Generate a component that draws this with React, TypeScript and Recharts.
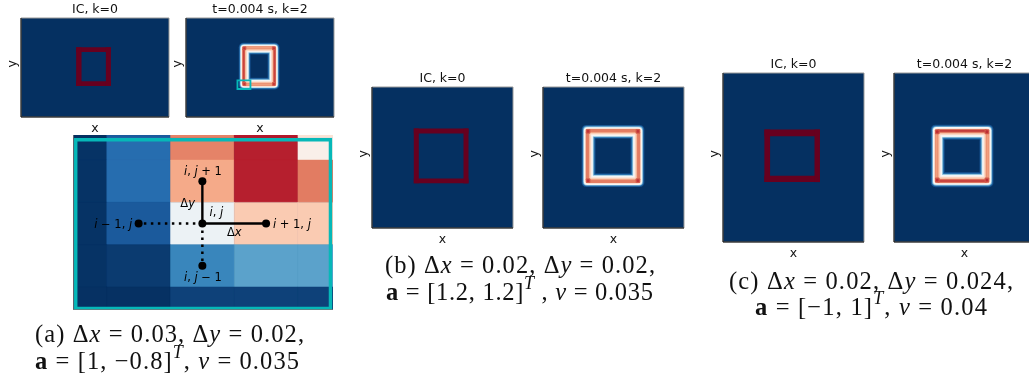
import React from "react";
import {
  ComposedChart,
  Scatter,
  XAxis,
  YAxis,
  ReferenceArea,
  ReferenceLine,
} from "recharts";

// RdBu_r colormap stops
const colormap = [
  "#053061", "#2166ac", "#4393c3", "#92c5de", "#d1e5f0", "#f7f7f7",
  "#fddbc7", "#f4a582", "#d6604d", "#b2182b", "#67001f",
];

// initial condition rings: outer [x1, x2, y1, y2], inner [x1, x2, y1, y2]
const icRingA = [[0.745, 1.215, 0.626, 1.408], [0.818, 1.147, 0.721, 1.313]];
const icRingB = [[0.593, 1.369, 0.633, 1.411], [0.664, 1.298, 0.703, 1.34]];
const icRingC = [[0.587, 1.375, 0.709, 1.331], [0.668, 1.298, 0.783, 1.252]];

// diffused rings: centre line [x1, x2, y1, y2], half width [hx, hy]
const diffusedLineA = [0.788, 1.188, 0.667, 1.388];
const diffusedHalfA = [0.075, 0.11];
const diffusedLineB = [0.64, 1.346, 0.672, 1.37];
const diffusedHalfB = [0.092, 0.092];
const diffusedLineC = [0.614, 1.318, 0.732, 1.305];
const diffusedHalfC = [0.092, 0.083];

// field value across the ring, outside (1) to inside (-1)
const bandLevels = [1, 0.86, 0.76, 0.66, 0.54, 0.44, 0.32, 0.18, 0.04, -0.1, -0.25, -0.4, -0.52, -0.64, -0.74, -0.86, -1, -1.15];
const bandValues = [0.06, 0.15, 0.3, 0.5, 0.52, 0.62, 0.7, 0.76, 0.74, 0.68, 0.62, 0.57, 0.5, 0.48, 0.3, 0.15, 0.05, 0];

// peak value on [vertical sides, horizontal sides, corners]
const peaksA = [0.84, 0.71, 0.86];
const peaksB = [0.76, 0.76, 0.86];
const peaksC = [0.71, 0.85, 0.87];

// highlighted window on the panel (a) snapshot
const windowA = [0.695, 0.871, 0.566, 0.741];

// zoomed grid
const gridXEdges = [-0.53, 0, 1, 2, 3, 3.558];
const gridYEdges = [3.593, 3.53, 3, 2, 1, 0, -0.544];
const gridValues = [
  [0.0, 0.08, 0.75, 0.9, 0.57],
  [0.005, 0.115, 0.75, 0.89, 0.53],
  [0.005, 0.115, 0.69, 0.89, 0.76],
  [0.005, 0.078, 0.47, 0.63, 0.63],
  [0.005, 0.02, 0.17, 0.23, 0.23],
  [0.002, 0.002, 0.032, 0.032, 0.032],
];
const gridWindow = [-0.487, 3.51, -0.506, 3.48];

const stencilPoints = [
  { x: 1.5, y: 1.5 },
  { x: 2.5, y: 1.5 },
  { x: 0.5, y: 1.5 },
  { x: 1.5, y: 2.5 },
  { x: 1.5, y: 0.5 },
];
const stencilLabels = [
  { x: 1.509, y: 2.75, text: "i, j + 1" },
  { x: 1.27, y: 1.996, text: "Δy" },
  { x: 1.72, y: 1.77, text: "i, j" },
  { x: 2.905, y: 1.5, text: "i + 1, j" },
  { x: 0.1, y: 1.5, text: "i − 1, j" },
  { x: 2.0, y: 1.3, text: "Δx" },
  { x: 1.509, y: 0.24, text: "i, j − 1" },
];

const titleIC = "IC, k=0";
const titleSnap = "t=0.004 s, k=2";

type Seg = { t: string; s?: "i" | "b" | "sup" };
type CapLine = { x: number; y: number; w: number; segs: Seg[] };

const captions: CapLine[] = [
  { x: 35, y: 342, w: 269, segs: [{ t: "(a) Δ" }, { t: "x", s: "i" }, { t: " = 0.03, Δ" }, { t: "y", s: "i" }, { t: " = 0.02," }] },
  { x: 35, y: 368.5, w: 264, segs: [{ t: "a", s: "b" }, { t: " = [1, −0.8]" }, { t: "T", s: "sup" }, { t: ", " }, { t: "ν", s: "i" }, { t: " = 0.035" }] },
  { x: 385, y: 273, w: 270, segs: [{ t: "(b) Δ" }, { t: "x", s: "i" }, { t: " = 0.02, Δ" }, { t: "y", s: "i" }, { t: " = 0.02," }] },
  { x: 386, y: 300, w: 267, segs: [{ t: "a", s: "b" }, { t: " = [1.2, 1.2]" }, { t: "T", s: "sup" }, { t: " , " }, { t: "ν", s: "i" }, { t: " = 0.035" }] },
  { x: 729, y: 288.5, w: 284, segs: [{ t: "(c) Δ" }, { t: "x", s: "i" }, { t: " = 0.02, Δ" }, { t: "y", s: "i" }, { t: " = 0.024," }] },
  { x: 755, y: 315, w: 232, segs: [{ t: "a", s: "b" }, { t: " = [−1, 1]" }, { t: "T", s: "sup" }, { t: ", " }, { t: "ν", s: "i" }, { t: " = 0.04" }] },
];

const TEAL = "#06b8b8";
const FONT = "DejaVu Sans";

const rdbu = (v: number) => {
  const p = Math.min(Math.max(v, 0), 1) * 10;
  const i = Math.min(Math.floor(p), 9);
  const f = p - i;
  const hex = (c: string, k: number) => parseInt(c.slice(1 + k * 2, 3 + k * 2), 16);
  const ch = [0, 1, 2].map((k) =>
    Math.round(hex(colormap[i], k) * (1 - f) + hex(colormap[i + 1], k) * f)
  );
  return `rgb(${ch[0]},${ch[1]},${ch[2]})`;
};

const mathSpans = (text: string) =>
  text.split("").map((c, k) =>
    /[ijxy]/.test(c) ? (
      <tspan key={k} fontStyle="italic">{c}</tspan>
    ) : (
      <tspan key={k}>{c}</tspan>
    )
  );

const MathLabel = (props: any) => (
  <text
    x={props.cx}
    y={props.cy}
    textAnchor="middle"
    dominantBaseline="central"
    fontFamily={FONT}
    fontSize={11.5}
    fill="#000"
  >
    {mathSpans(props.payload.text)}
  </text>
);

const ring = (r: number[][]) => {
  const [o, n] = r;
  const fill = rdbu(1);
  return [
    <ReferenceArea key="ic1" x1={o[0]} x2={o[1]} y1={o[2]} y2={n[2]} fill={fill} fillOpacity={1} />,
    <ReferenceArea key="ic2" x1={o[0]} x2={o[1]} y1={n[3]} y2={o[3]} fill={fill} fillOpacity={1} />,
    <ReferenceArea key="ic3" x1={o[0]} x2={n[0]} y1={o[2]} y2={o[3]} fill={fill} fillOpacity={1} />,
    <ReferenceArea key="ic4" x1={n[1]} x2={o[1]} y1={o[2]} y2={o[3]} fill={fill} fillOpacity={1} />,
  ];
};

const diffused = (line: number[], half: number[], peaks: number[]) => {
  const [x1, x2, y1, y2] = line;
  const [hx, hy] = half;
  const bands = bandLevels.map((l, k) => (
    <ReferenceArea
      key={`b${k}`}
      x1={x1 - l * hx}
      x2={x2 + l * hx}
      y1={y1 - l * hy}
      y2={y2 + l * hy}
      fill={rdbu(bandValues[k])}
      fillOpacity={1}
      radius={Math.max(4.5 * (0.35 + l * 0.65), 0.5)}
    />
  ));
  // side ridges, offset a little outwards from the centre line, soft then sharp
  const base = 0.75;
  const ridge = (w: number, mix: number) => {
    const vs = base + (peaks[0] - base) * mix;
    const hs = base + (peaks[1] - base) * mix;
    const o = 0.12;
    return [
      [x1 - o * hx - w * hx, x1 - o * hx + w * hx, y1, y2, vs],
      [x2 + o * hx - w * hx, x2 + o * hx + w * hx, y1, y2, vs],
      [x1, x2, y1 - o * hy - w * hy, y1 - o * hy + w * hy, hs],
      [x1, x2, y2 + o * hy - w * hy, y2 + o * hy + w * hy, hs],
    ];
  };
  const cornerAt = (c: number, v: number) =>
    [[x1, y1], [x2, y1], [x1, y2], [x2, y2]].map(([cx, cy]) => [
      cx - c * hx, cx + c * hx, cy - c * hy, cy + c * hy, v,
    ]);
  const extra = [
    ...ridge(0.24, 0.5),
    ...ridge(0.12, 1),
    ...cornerAt(0.36, (base + peaks[2]) / 2),
    ...cornerAt(0.2, peaks[2]),
  ].map((r, k) => (
    <ReferenceArea
      key={`s${k}`}
      x1={r[0]}
      x2={r[1]}
      y1={r[2]}
      y2={r[3]}
      fill={rdbu(r[4])}
      fillOpacity={1}
      radius={1}
    />
  ));
  return [...bands, ...extra];
};

const TOP = 18;
const BOTTOM = 17;
const LEFT = 20;

interface PanelProps {
  left: number;
  top: number;
  width: number;
  height: number;
  title: string;
  titleGap: number;
  children: React.ReactNode;
}

// one image panel, positioned by its plot box
const Panel = ({ left, top, width, height, title, titleGap, children }: PanelProps) => (
  <div style={{ position: "absolute", left: left - LEFT, top: top - TOP }}>
    <ComposedChart
      width={width + LEFT + 2}
      height={height + TOP + BOTTOM}
      margin={{ top: TOP, right: 2, bottom: 0, left: 0 }}
    >
      <XAxis
        type="number"
        dataKey="x"
        domain={[0, 2]}
        allowDataOverflow
        height={BOTTOM}
        tick={false}
        tickLine={false}
        axisLine={false}
        label={{ value: "x", position: "insideBottom", offset: 2, fontFamily: FONT, fontSize: 12.5, fill: "#111" }}
      />
      <YAxis
        type="number"
        dataKey="y"
        domain={[0, 2]}
        allowDataOverflow
        width={LEFT}
        tick={false}
        tickLine={false}
        axisLine={false}
        label={{ value: "y", angle: -90, position: "insideLeft", offset: 10.5, fontFamily: FONT, fontSize: 12.5, fill: "#111" }}
      />
      <ReferenceArea x1={0} x2={2} y1={0} y2={2} fill={rdbu(0)} fillOpacity={1} stroke="#999" strokeWidth={1} />
      {children}
      <ReferenceLine segment={[{ x: 0, y: 0 }, { x: 0, y: 2 }]} stroke="#111" strokeWidth={1} />
      <ReferenceLine segment={[{ x: 0, y: 0 }, { x: 2, y: 0 }]} stroke="#111" strokeWidth={1} />
      <text
        x={LEFT + width / 2}
        y={TOP - titleGap}
        textAnchor="middle"
        dominantBaseline="central"
        fontFamily={FONT}
        fontSize={12.5}
        fill="#111"
      >
        {title}
      </text>
    </ComposedChart>
  </div>
);

const GridInset = () => (
  <div style={{ position: "absolute", left: 72.7, top: 135 }}>
    <ComposedChart width={260.5} height={175} margin={{ top: 0, right: 0, bottom: 0, left: 0 }}>
      <XAxis type="number" dataKey="x" hide domain={[gridXEdges[0], gridXEdges[5]]} allowDataOverflow />
      <YAxis type="number" dataKey="y" hide domain={[gridYEdges[6], gridYEdges[0]]} allowDataOverflow />
      <ReferenceArea
        x1={gridXEdges[0]}
        x2={gridXEdges[5]}
        y1={gridYEdges[6]}
        y2={gridYEdges[0]}
        fill={rdbu(0)}
        fillOpacity={1}
      />
      {gridValues.map((row, r) =>
        row.map((v, c) => (
          <ReferenceArea
            key={`${r}-${c}`}
            x1={gridXEdges[c]}
            x2={gridXEdges[c + 1]}
            y1={gridYEdges[r + 1]}
            y2={gridYEdges[r]}
            fill={rdbu(v)}
            fillOpacity={1}
            stroke={rdbu(v)}
            strokeWidth={0.5}
          />
        ))
      )}
      <ReferenceLine segment={[{ x: gridXEdges[0], y: gridYEdges[6] }, { x: gridXEdges[0], y: gridYEdges[0] }]} stroke="#777" strokeWidth={1.5} />
      <ReferenceLine segment={[{ x: gridXEdges[0], y: gridYEdges[6] }, { x: gridXEdges[5], y: gridYEdges[6] }]} stroke="#777" strokeWidth={1.5} />
      <ReferenceArea
        x1={gridWindow[0]}
        x2={gridWindow[1]}
        y1={gridWindow[2]}
        y2={gridWindow[3]}
        fill="none"
        stroke={TEAL}
        strokeWidth={3.4}
      />
      <ReferenceLine segment={[stencilPoints[0], stencilPoints[1]]} stroke="#000" strokeWidth={2.4} />
      <ReferenceLine segment={[stencilPoints[0], stencilPoints[3]]} stroke="#000" strokeWidth={2.4} />
      <ReferenceLine segment={[stencilPoints[0], stencilPoints[2]]} stroke="#000" strokeWidth={2.5} strokeDasharray="2.5 4.5" />
      <ReferenceLine segment={[stencilPoints[0], stencilPoints[4]]} stroke="#000" strokeWidth={2.5} strokeDasharray="2.5 4.5" />
      <Scatter data={stencilPoints} fill="#000" isAnimationActive={false} shape={(p: any) => <circle cx={p.cx} cy={p.cy} r={4} fill="#000" />} />
      <Scatter data={stencilLabels} isAnimationActive={false} shape={MathLabel} />
    </ComposedChart>
  </div>
);

const Captions = () => (
  <svg width={1029} height={381} style={{ position: "absolute", left: 0, top: 0 }}>
    {captions.map((c, k) => (
      <text
        key={k}
        x={c.x}
        y={c.y}
        fontFamily="Liberation Serif"
        fontSize={24.5}
        fill="#111"
        textLength={c.w}
        lengthAdjust="spacing"
      >
        {c.segs.map((s, j) => {
          if (s.s === "sup") return <tspan key={j} dy={-11} fontSize={18} fontStyle="italic">{s.t}</tspan>;
          const prevSup = j > 0 && c.segs[j - 1].s === "sup";
          return (
            <tspan
              key={j}
              dy={prevSup ? 11 : undefined}
              fontStyle={s.s === "i" ? "italic" : undefined}
              fontWeight={s.s === "b" ? "bold" : undefined}
            >
              {s.t}
            </tspan>
          );
        })}
      </text>
    ))}
  </svg>
);

export default function App() {
  return (
    <div
      style={{
        position: "absolute",
        left: 0,
        top: 0,
        width: 1029,
        height: 381,
        overflow: "hidden",
        background: "#fff",
      }}
    >
      <div style={{ position: "absolute", inset: 0, filter: "blur(0.35px)" }}>
        <Panel left={21} top={18} width={148} height={99} title={titleIC} titleGap={9.5}>
          {ring(icRingA)}
        </Panel>
        <Panel left={186} top={18} width={148} height={99} title={titleSnap} titleGap={9.5}>
          {diffused(diffusedLineA, diffusedHalfA, peaksA)}
          <ReferenceArea x1={windowA[0]} x2={windowA[1]} y1={windowA[2]} y2={windowA[3]} fill="none" stroke={TEAL} strokeWidth={1.8} />
        </Panel>
        <GridInset />
        <Panel left={372} top={87} width={141} height={141} title={titleIC} titleGap={10}>
          {ring(icRingB)}
        </Panel>
        <Panel left={543} top={87} width={141} height={141} title={titleSnap} titleGap={10}>
          {diffused(diffusedLineB, diffusedHalfB, peaksB)}
        </Panel>
        <Panel left={723} top={73} width={141} height={169} title={titleIC} titleGap={10}>
          {ring(icRingC)}
        </Panel>
        <Panel left={894} top={73} width={141} height={169} title={titleSnap} titleGap={10}>
          {diffused(diffusedLineC, diffusedHalfC, peaksC)}
        </Panel>
        <Captions />
      </div>
    </div>
  );
}
